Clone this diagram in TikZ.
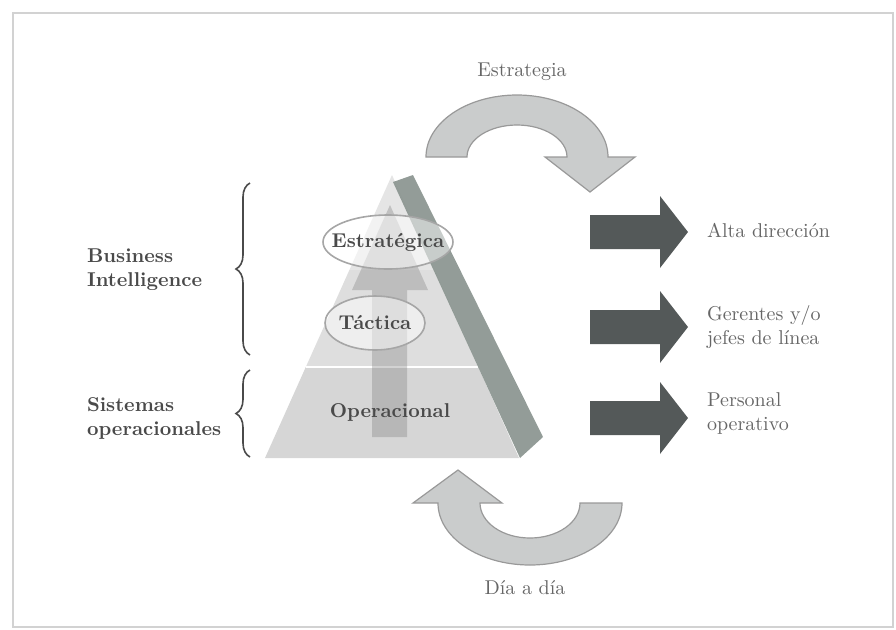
\documentclass[tikz,border=0pt]{standalone}
\usepackage{amsmath}
\usepackage{tikz}
\usetikzlibrary{positioning, decorations.pathreplacing, shapes.geometric}
\definecolor{nivelA}{HTML}{E5E5E5}
\definecolor{nivelB}{HTML}{DEDEDE}
\definecolor{nivelC}{HTML}{D6D6D6}
\definecolor{barra}{HTML}{8D9792}
\definecolor{oscuro}{HTML}{545959}
\definecolor{curva}{HTML}{CACCCC}
\definecolor{texto}{HTML}{4A4A4A}
\definecolor{textoclaro}{HTML}{666666}

\begin{document}
\begin{tikzpicture}[x=0.5pt, y=-0.5pt,
		nivel/.style={text=texto, font=\bfseries},
		elipse/.style={ellipse, draw=gray!70, line width=0.8pt, fill=white, fill opacity=0.5, text opacity=1, inner sep=0pt},
		grupo/.style={text=texto, font=\bfseries, align=left, anchor=west},
		cargo/.style={text=textoclaro, align=left, anchor=west},
		llave/.style={decorate, decoration={brace, amplitude=7pt}, draw=texto, line width=0.8pt},
		giro/.style={fill=curva, draw=gray!80, line width=0.6pt},
		flecha/.style={fill=oscuro}]
			\useasboundingbox (0,0) rectangle (896,629);
			\draw[gray!35, line width=1.2pt] (13,13) rectangle (893,627);

			% piramide
			\fill[nivelC] (305.8,367) -- (478.2,367) -- (519,458) -- (265,458) -- cycle;
			\fill[nivelB] (349.4,270) -- (434.6,270) -- (478.2,367) -- (305.8,367) -- cycle;
			\fill[nivelA] (392,175) -- (434.6,270) -- (349.4,270) -- cycle;
			\draw[white, line width=1pt] (305.8,367) -- (478.2,367);
			\fill[gray, opacity=0.35] (372,437) -- (372,290) -- (352,290) -- (390,205)
				-- (428,290) -- (407,290) -- (407,437) -- cycle;
			\fill[barra, opacity=0.95] (393,182) -- (413,175) -- (543,437) -- (520,458) -- cycle;

			\node[elipse, minimum width=65pt, minimum height=27pt] (Est) at (388,242) {};
			\node[nivel] at (Est) {Estratégica};
			\node[elipse, minimum width=50pt, minimum height=27pt] (Tac) at (375,323) {};
			\node[nivel] at (Tac) {Táctica};
			\node[nivel] (Ope) at (390,412) {Operacional};

			% lados
			\node[grupo] (BI) at (80,270) {Business\\Intelligence};
			\node[grupo] (SO) at (80,418) {Sistemas\\operacionales};
			\draw[llave] (250,355) -- (250,183);
			\draw[llave] (250,457) -- (250,370);

			% ciclos
			\path[giro] (426,157) arc[start angle=180, end angle=360, x radius=91, y radius=62]
				-- (635,157) -- (590,192) -- (545,157) -- (567,157)
				arc[start angle=360, end angle=180, x radius=50, y radius=32] -- cycle;
			\node[text=textoclaro] (Estr) at (522,72) {Estrategia};
			\path[giro] (622,503) arc[start angle=0, end angle=180, x radius=92, y radius=62]
				-- (413,503) -- (458,470) -- (502,503) -- (480,503)
				arc[start angle=180, end angle=0, x radius=50, y radius=35] -- cycle;
			\node[text=textoclaro] (Dia) at (525,588) {Día a día};

			% destinatarios
			\foreach \yc in {232, 327, 418}
				\fill[flecha] (590,\yc-17) -- (660,\yc-17) -- (660,\yc-36) -- (688,\yc)
					-- (660,\yc+36) -- (660,\yc+17) -- (590,\yc+17) -- cycle;
			\node[cargo] (AD) at (700,230) {Alta dirección};
			\node[cargo] (GJ) at (700,327) {Gerentes y/o\\jefes de línea};
			\node[cargo] (PO) at (700,413) {Personal\\operativo};
		\end{tikzpicture}
\end{document}
